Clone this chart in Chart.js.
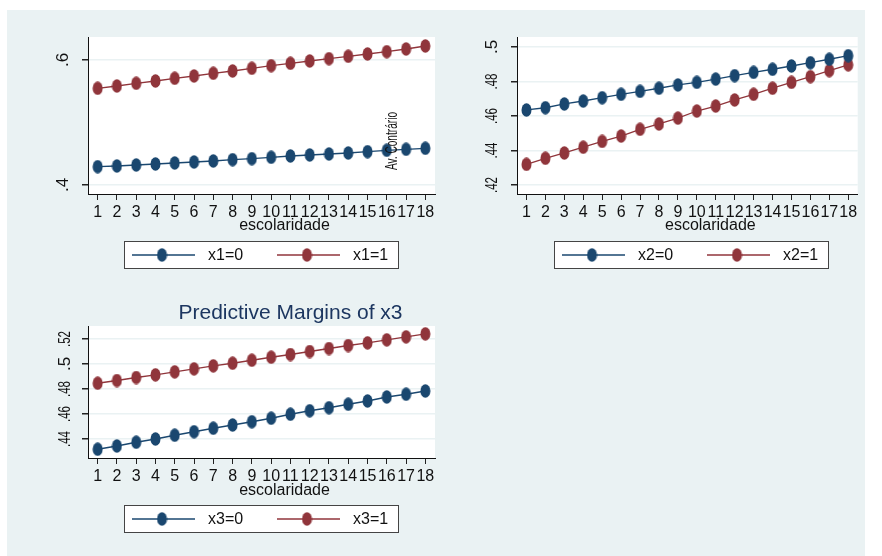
<!DOCTYPE html>
<html><head><meta charset="utf-8">
<script src="https://cdn.jsdelivr.net/npm/chart.js@4/dist/chart.umd.min.js"></script>
<style>
html,body{margin:0;padding:0;background:#fff;width:882px;height:556px;overflow:hidden;font-family:"Liberation Sans",Arial,sans-serif}
#bg{position:absolute;left:7px;top:10px;width:858px;height:546px;background:#eaf2f3}
canvas{position:absolute}
</style></head><body>
<div id="bg"></div>
<div id="w1" style="position:absolute;left:7px;top:10px;width:443px;height:275px"><canvas id="c1"></canvas></div>
<div id="w2" style="position:absolute;left:450px;top:10px;width:415px;height:275px"><canvas id="c2"></canvas></div>
<div id="w3" style="position:absolute;left:7px;top:285px;width:443px;height:271px"><canvas id="c3"></canvas></div>
<script>
// ---- data ----
const escolaridade = [1,2,3,4,5,6,7,8,9,10,11,12,13,14,15,16,17,18];
const p1_x1_0 = [.4293,.4304,.4320,.4336,.4352,.4368,.4384,.4405,.4421,.4443,.4464,.4480,.4496,.4512,.4533,.4555,.4571,.4587];
const p1_x1_1 = [.5547,.5584,.5627,.5664,.5707,.5744,.5787,.5824,.5867,.5909,.5947,.5984,.6021,.6059,.6096,.6133,.6176,.6224];
const p2_x2_0 = [.4635,.4648,.4670,.4687,.4706,.4726,.4743,.4761,.4780,.4795,.4814,.4834,.4853,.4871,.4890,.4909,.4929,.4950];
const p2_x2_1 = [.4320,.4355,.4386,.4419,.4453,.4484,.4523,.4554,.4588,.4629,.4658,.4693,.4726,.4761,.4795,.4828,.4863,.4897];
const p3_x3_0 = [.4318,.4344,.4374,.4400,.4430,.4458,.4486,.4512,.4538,.4566,.4598,.4626,.4650,.4678,.4704,.4736,.4758,.4784];
const p3_x3_1 = [.4846,.4868,.4892,.4913,.4937,.4961,.4985,.5006,.5030,.5054,.5076,.5100,.5124,.5148,.5169,.5193,.5217,.5241];
const yTicks1 = [.4,.6];           const yLabels1 = ['.4','.6'];
const yTicks2 = [.42,.44,.46,.48,.5]; const yLabels2 = ['.42','.44','.46','.48','.5'];
const yTicks3 = [.44,.46,.48,.5,.52]; const yLabels3 = ['.44','.46','.48','.5','.52'];
const legend1 = ['x1=0','x1=1'];
const legend2 = ['x2=0','x2=1'];
const legend3 = ['x3=0','x3=1'];
const xTitle = 'escolaridade';
const title3 = 'Predictive Margins of x3';
const note1 = 'Av. Contrário';

const BLUE = '#1a476f', RED = '#90353b';
const FONT = '"Liberation Sans", Arial, sans-serif';

function marker(color){
  const c = document.createElement('canvas');
  c.width = 11; c.height = 14;
  const g = c.getContext('2d');
  g.fillStyle = color;
  g.beginPath(); g.ellipse(5.5, 7, 5.0, 6.8, 0, 0, Math.PI*2); g.fill();
  return c;
}
const mBlue = marker(BLUE), mRed = marker(RED);

const stataPlugin = {
  id: 'stata',
  beforeDraw(chart, args, o){
    const {ctx, chartArea:a} = chart;
    ctx.save();
    ctx.fillStyle = '#fff';
    ctx.fillRect(a.left, a.top, a.right-a.left, a.bottom-a.top);
    ctx.restore();
  },
  afterDraw(chart, args, o){
    const {ctx, chartArea:a} = chart;
    const ys = chart.scales.y, xs = chart.scales.x;
    ctx.save();
    // rotated y tick labels
    ctx.fillStyle = '#111';
    ctx.font = '17px ' + FONT;
    ctx.textAlign = 'center'; ctx.textBaseline = 'middle';
    o.yTicks.forEach((v,i) => {
      const py = ys.getPixelForValue(v);
      ctx.save(); ctx.translate(a.left - o.labOff, py); ctx.rotate(-Math.PI/2);
      ctx.fillText(o.yLabels[i], 0, 0, 16); ctx.restore();
    });
    // x title
    ctx.font = '16px ' + FONT;
    ctx.fillText(xTitle, (a.left+a.right)/2 + 23, a.bottom + o.titleDy);
    // chart title
    if (o.title){
      ctx.fillStyle = '#1c3660';
      ctx.font = '21px ' + FONT;
      ctx.fillText(o.title, (a.left+a.right)/2 + 29, a.top - 13);
    }
    // note text
    if (o.note){
      ctx.fillStyle = '#111';
      ctx.font = '17px ' + FONT;
      const px = xs.getPixelForValue(15) + 6;
      ctx.save(); ctx.translate(px, ys.getPixelForValue(.4704)); ctx.rotate(-Math.PI/2);
      ctx.fillText(o.note, 0, 0, 58); ctx.restore();
    }
    // legend
    const L = o.legend;
    const bx = L.x, by = L.y, bw = 274, bh = 27;
    ctx.fillStyle = '#fff'; ctx.fillRect(bx, by, bw, bh);
    ctx.strokeStyle = '#444'; ctx.lineWidth = 1;
    ctx.strokeRect(bx+0.5, by+0.5, bw, bh);
    const cy = by + bh/2 + 0.5;
    const items = [[BLUE, mBlue, 8, L.labels[0]], [RED, mRed, 153, L.labels[1]]];
    ctx.font = '16px ' + FONT; ctx.textAlign = 'left'; ctx.textBaseline = 'middle';
    items.forEach(([col, m, off, lab]) => {
      ctx.strokeStyle = col; ctx.lineWidth = 1.3;
      ctx.beginPath(); ctx.moveTo(bx+off, cy); ctx.lineTo(bx+off+63, cy); ctx.stroke();
      ctx.drawImage(m, bx+off+30-5.5, cy-7);
      ctx.fillStyle = '#111';
      ctx.fillText(lab, bx+off+76, cy+1);
    });
    ctx.restore();
  }
};

function makeChart(id, d0, d1, yMin, yMax, yT, yL, pad, xH, plug){
  return new Chart(document.getElementById(id), {
    type: 'line',
    data: {
      labels: escolaridade.map(String),
      datasets: [
        {data: d0, borderColor: BLUE, borderWidth: 1.3, pointStyle: mBlue, pointRadius: 6, pointHoverRadius: 6, tension: 0},
        {data: d1, borderColor: RED, borderWidth: 1.3, pointStyle: mRed, pointRadius: 6, pointHoverRadius: 6, tension: 0}
      ]
    },
    options: {
      responsive: true, maintainAspectRatio: false, animation: false,
      devicePixelRatio: 1,
      layout: {padding: {left: 0, top: pad.top, right: pad.right, bottom: 0}},
      plugins: {legend: {display: false}, tooltip: {enabled: false}, stata: plug},
      events: [],
      scales: {
        x: {
          type: 'category', offset: true,
          grid: {display: true, drawOnChartArea: false, drawTicks: true, tickLength: 6, tickColor: '#222', lineWidth: 1},
          border: {display: true, color: '#111', width: 1},
          ticks: {color: '#111', font: {size: 16, family: FONT}, autoSkip: false, maxRotation: 0, minRotation: 0, padding: 3},
          afterFit: s => { s.height = xH; }
        },
        y: {
          min: yMin, max: yMax,
          afterBuildTicks: s => { s.ticks = yT.map(v => ({value: v})); },
          grid: {color: '#eaf2f3', lineWidth: 1.5, drawTicks: true, tickLength: 6, tickColor: '#222'},
          border: {display: true, color: '#111', width: 1},
          ticks: {display: false},
          afterFit: s => { s.width = pad.left; }
        }
      }
    },
    plugins: [stataPlugin]
  });
}

makeChart('c1', p1_x1_0, p1_x1_1, .3856, .6368, yTicks1, yLabels1, {left: 81, top: 27, right: 15}, 91,
  {yTicks: yTicks1, yLabels: yLabels1, labOff: 25, titleDy: 32, legend: {x: 117, y: 231, labels: legend1}, note: note1});
makeChart('c2', p2_x2_0, p2_x2_1, .4148, .5058, yTicks2, yLabels2, {left: 67, top: 27, right: 2}, 91,
  {yTicks: yTicks2, yLabels: yLabels2, labOff: 25, titleDy: 32, legend: {x: 104, y: 231, labels: legend2}});
makeChart('c3', p3_x3_0, p3_x3_1, .4248, .5304, yTicks3, yLabels3, {left: 81, top: 41, right: 15}, 98,
  {yTicks: yTicks3, yLabels: yLabels3, labOff: 23, titleDy: 33, legend: {x: 117, y: 220, labels: legend3}, title: title3});
</script>
</body></html>
